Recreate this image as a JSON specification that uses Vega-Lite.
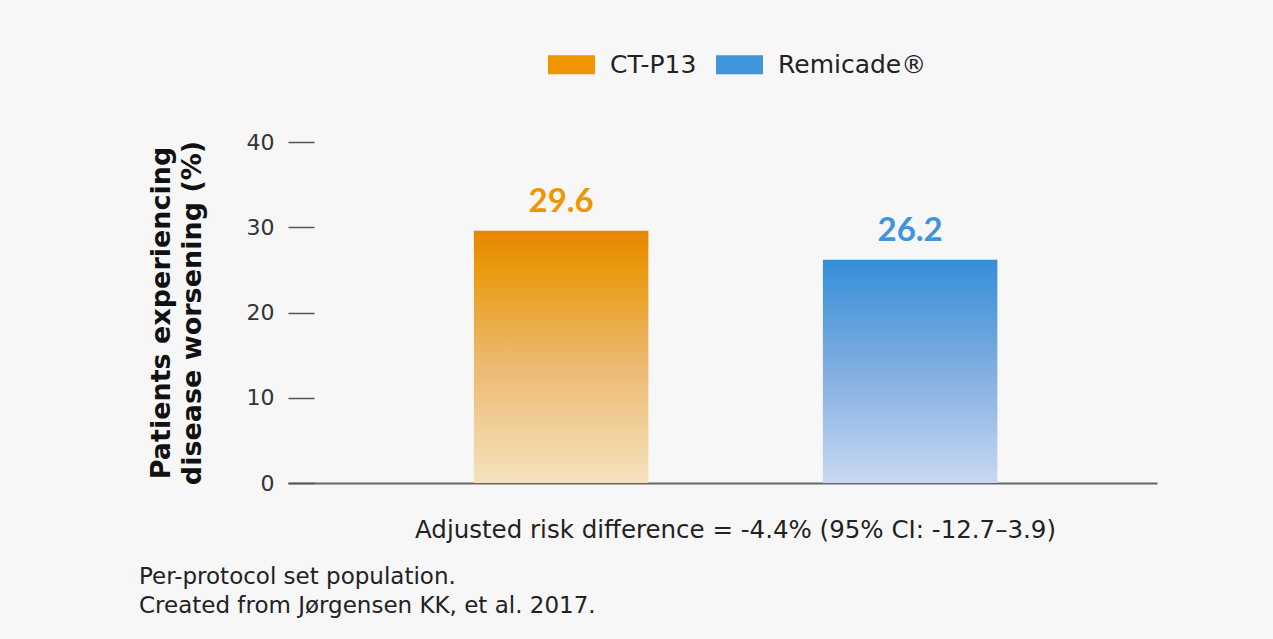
{
  "$schema": "https://vega.github.io/schema/vega-lite/v6.json",
  "width": 869,
  "height": 341,
  "autosize": {"type": "none"},
  "padding": {"left": 288, "top": 142, "right": 116, "bottom": 156},
  "background": "#f7f7f7",
  "config": {
    "font": "DejaVu Sans",
    "view": {"stroke": null},
    "axis": {"grid": false}
  },
  "title": {
    "text": ["Per-protocol set population.", "Created from Jørgensen KK, et al. 2017."],
    "orient": "bottom",
    "anchor": "start",
    "frame": "bounds",
    "font": "DejaVu Sans",
    "fontSize": 23,
    "fontWeight": "normal",
    "color": "#222222",
    "lineHeight": 29,
    "offset": 24,
    "dx": -8
  },
  "data": {
    "values": [
      {"drug": "CT-P13", "value": 29.6},
      {"drug": "Remicade®", "value": 26.2}
    ]
  },
  "encoding": {
    "x": {
      "field": "drug",
      "type": "nominal",
      "sort": ["CT-P13", "Remicade®"],
      "scale": {"paddingInner": 0.5, "paddingOuter": 0.495, "align": 0.538},
      "axis": {
        "title": "Adjusted risk difference = -4.4% (95% CI: -12.7–3.9)",
        "titleFont": "DejaVu Sans",
        "titleFontSize": 24.5,
        "titleFontWeight": "normal",
        "titleColor": "#222222",
        "titlePadding": 35,
        "titleX": 447,
        "labels": false,
        "ticks": false,
        "domainColor": "#666666",
        "domainWidth": 2
      }
    },
    "y": {
      "field": "value",
      "type": "quantitative",
      "scale": {"domain": [0, 40]},
      "axis": {
        "values": [0, 10, 20, 30, 40],
        "title": ["Patients experiencing", "disease worsening (%)"],
        "titleFont": "DejaVu Sans",
        "titleFontSize": 27,
        "titleFontWeight": "bold",
        "titleColor": "#111111",
        "titleLineHeight": 31,
        "titlePadding": 40,
        "domain": false,
        "offset": -26,
        "tickSize": 26,
        "tickColor": "#555555",
        "tickWidth": 1.5,
        "labelFont": "DejaVu Sans",
        "labelFontSize": 22,
        "labelColor": "#333333",
        "labelPadding": 14
      }
    }
  },
  "layer": [
    {
      "transform": [{"filter": "datum.drug === 'CT-P13'"}],
      "mark": {
        "type": "bar",
        "color": {
          "gradient": "linear",
          "x1": 0, "y1": 0, "x2": 0, "y2": 1,
          "stops": [
            {"offset": 0, "color": "#e68500"},
            {"offset": 0.15, "color": "#e99a10"},
            {"offset": 0.5, "color": "#ecb76a"},
            {"offset": 1, "color": "#f4e2bf"}
          ]
        }
      }
    },
    {
      "transform": [{"filter": "datum.drug === 'Remicade®'"}],
      "mark": {
        "type": "bar",
        "color": {
          "gradient": "linear",
          "x1": 0, "y1": 0, "x2": 0, "y2": 1,
          "stops": [
            {"offset": 0, "color": "#358ed8"},
            {"offset": 0.5, "color": "#81aee0"},
            {"offset": 1, "color": "#c8d8f2"}
          ]
        }
      }
    },
    {
      "mark": {
        "type": "text",
        "font": "Lato",
        "fontSize": 33,
        "fontWeight": "bold",
        "baseline": "alphabetic",
        "dy": -19
      },
      "encoding": {
        "text": {"field": "value", "type": "quantitative", "format": ".1f"},
        "color": {
          "field": "drug",
          "type": "nominal",
          "sort": ["CT-P13", "Remicade®"],
          "scale": {"domain": ["CT-P13", "Remicade®"], "range": ["#ee9500", "#3f95dc"]},
          "legend": {
            "title": null,
            "orient": "none",
            "direction": "horizontal",
            "legendX": 260,
            "legendY": -101,
            "padding": 0,
            "symbolType": "M-1,-0.404H1V0.404H-1Z",
            "symbolSize": 2209,
            "symbolStrokeWidth": 0,
            "labelFont": "DejaVu Sans",
            "labelFontSize": 25,
            "labelColor": "#222222",
            "labelOffset": 15,
            "columnPadding": 19
          }
        }
      }
    }
  ]
}
